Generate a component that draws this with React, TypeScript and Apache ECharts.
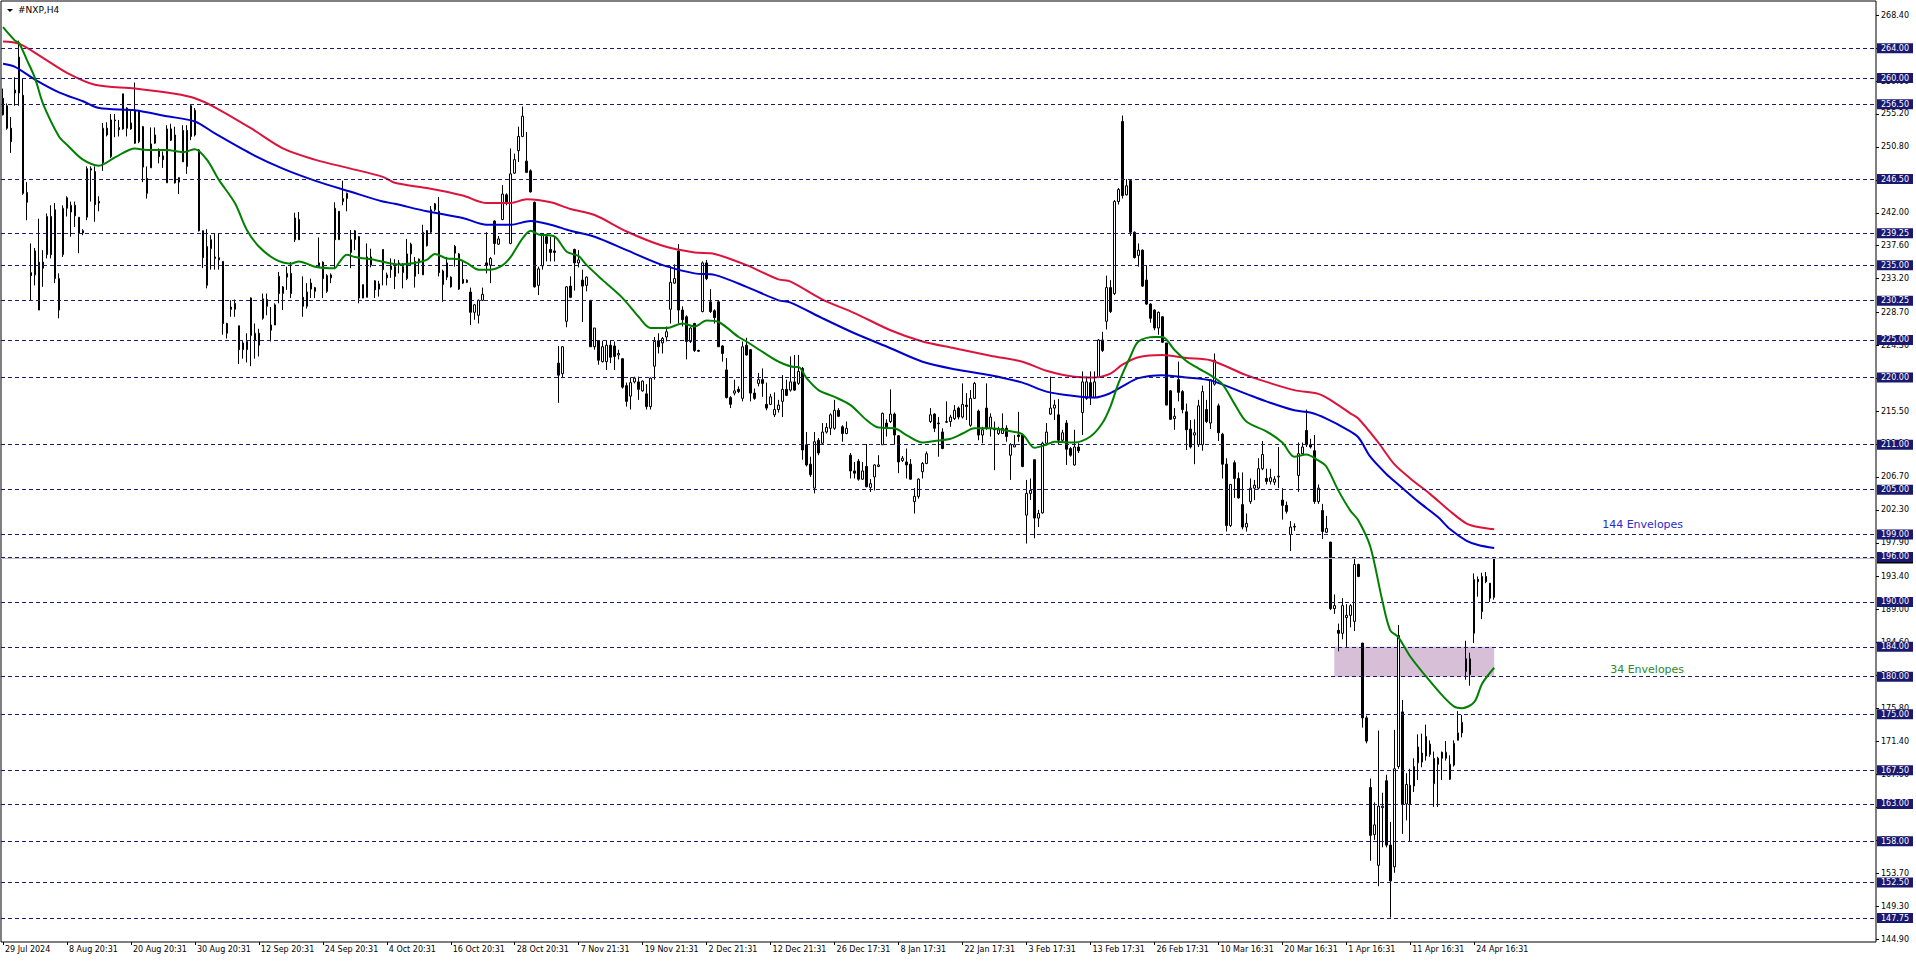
import React, { useEffect, useRef } from "react";
import * as echarts from "echarts";

// ---- DATA ----
// candles: [open, close, low, high], H4 bars from 29 Jul 2024 to 24 Apr 2025
const candles: number[][] = [
  [257.3,255.1,255.0,258.6],[256.3,253.3,253.1,256.6],[253.3,251.5,250.0,254.8],[258.0,258.4,256.3,260.1],[258.0,262.8,256.3,265.0],
  [257.7,244.6,244.4,260.0],[244.7,243.4,241.0,246.1],[234.0,233.6,230.3,237.9],[233.7,236.9,232.3,237.3],[229.0,235.4,229.0,241.2],
  [235.4,234.6,232.1,237.0],[236.4,241.5,235.9,241.9],[241.5,236.4,235.9,243.0],[242.4,233.2,232.6,243.3],[233.2,229.0,227.9,233.9],
  [236.4,242.6,236.1,243.0],[242.6,244.0,241.5,244.2],[242.1,243.0,238.8,243.5],[243.0,241.6,240.1,243.5],[241.4,239.3,236.6,241.4],
  [239.3,239.6,239.0,239.8],[241.4,247.9,241.0,248.2],[247.7,247.9,243.5,248.2],[247.5,243.1,240.8,248.2],[243.5,243.3,242.2,244.2],
  [248.7,253.3,247.6,254.0],[253.3,252.4,252.2,254.1],[249.5,254.4,249.3,255.2],[254.4,254.3,252.1,255.2],[253.1,253.4,252.2,254.4],
  [253.2,257.9,253.1,257.9],[256.0,253.3,252.2,256.1],[253.2,254.0,253.1,255.7],[255.7,251.3,251.2,259.4],[251.5,255.5,251.3,255.7],
  [253.5,248.1,246.1,253.6],[246.6,244.6,243.9,248.2],[248.0,251.2,248.0,253.4],[251.3,252.4,251.2,253.4],[250.3,249.5,248.6,250.6],
  [249.6,249.1,248.0,250.2],[246.0,253.2,246.0,253.7],[253.2,251.7,251.6,253.9],[252.4,246.0,245.9,253.5],[246.1,246.7,244.5,246.7],
  [248.8,253.0,248.8,253.7],[253.0,248.2,247.2,253.7],[256.3,252.2,251.7,256.4],[252.4,255.7,252.2,256.0],[250.4,239.6,239.5,250.5],
  [239.6,236.0,234.6,239.6],[232.3,237.5,231.9,239.8],[237.2,238.4,234.4,239.0],[236.1,235.9,234.4,239.3],[235.7,236.0,234.4,239.3],
  [235.5,227.2,225.7,235.5],[227.2,225.9,225.2,227.3],[229.4,229.1,228.1,230.3],[229.1,229.9,228.1,230.4],[226.9,223.7,221.8,226.9],
  [223.7,224.6,222.5,225.0],[223.7,224.8,222.0,225.9],[225.6,230.6,221.5,230.7],[225.0,225.9,222.5,227.2],[225.9,224.3,222.8,226.5],
  [227.9,230.5,227.7,231.2],[230.4,229.5,228.3,231.2],[226.3,227.0,224.8,229.4],[227.0,229.7,227.0,229.9],[233.5,231.2,229.9,234.1],
  [231.2,232.1,229.0,232.2],[233.4,233.9,231.7,234.8],[233.9,231.2,230.6,235.4],[238.4,241.3,238.1,242.0],[241.1,238.4,238.4,242.1],
  [230.7,229.5,228.1,233.5],[229.5,231.4,229.2,232.6],[232.6,231.8,230.6,233.2],[231.5,232.0,230.6,232.1],[234.8,235.3,234.8,238.7],
  [235.4,233.2,230.6,235.5],[231.5,233.6,231.3,233.8],[233.3,233.7,232.6,233.9],[242.6,238.4,234.6,243.4],[238.4,242.2,238.4,242.2],
  [243.5,243.9,243.0,246.3],[243.9,244.6,242.2,244.7],[236.7,238.4,234.6,239.7],[238.4,239.6,237.0,239.7],[238.8,230.6,229.9,238.9],
  [230.6,232.4,230.6,232.4],[230.7,236.1,230.7,237.9],[235.0,236.1,234.7,237.2],[232.9,231.7,230.6,233.0],[231.8,232.5,230.8,232.9],
  [237.1,234.4,232.3,237.1],[233.3,233.7,232.3,234.0],[234.4,234.9,233.3,235.9],[234.8,233.5,231.8,235.8],[235.1,235.3,233.9,235.7],
  [234.0,234.8,231.9,235.3],[233.2,236.5,233.0,238.5],[236.5,237.8,235.0,238.0],[233.5,235.5,232.0,236.1],[235.3,235.8,233.8,235.9],
  [233.7,239.4,233.7,240.4],[239.6,237.6,237.5,239.7],[239.4,242.4,239.3,242.9],[242.4,243.2,242.2,243.3],[242.2,234.0,233.5,244.1],
  [234.2,232.4,230.1,234.4],[235.3,233.4,233.0,236.1],[233.4,232.1,232.0,233.5],[237.5,236.6,234.8,237.7],[236.5,231.8,231.7,236.6],
  [233.1,232.6,232.5,235.7],[232.7,233.0,232.6,233.1],[231.4,228.7,227.0,232.0],[228.7,229.7,227.7,229.8],[228.3,230.3,227.2,230.4],
  [230.3,231.1,230.2,232.0],[235.3,235.0,233.9,239.4],[235.0,235.9,232.6,236.1],[240.9,237.9,236.4,241.0],[237.8,238.5,237.7,238.9],
  [241.1,244.5,241.0,245.7],[244.4,243.4,243.0,244.6],[237.9,247.2,237.8,250.6],[247.3,249.1,247.2,249.9],[250.3,252.2,248.8,253.5],
  [252.2,254.9,252.1,256.2],[248.9,247.4,247.3,252.8],[247.6,244.8,244.7,247.8],[243.4,232.1,232.0,243.5],[232.3,234.5,231.0,234.8],
  [234.9,239.0,234.4,239.2],[238.8,237.9,235.5,239.2],[237.1,236.7,235.5,238.8],[236.9,236.7,235.5,238.8],[221.9,220.3,216.6,224.2],
  [220.5,224.1,219.9,224.2],[227.5,232.1,226.7,232.2],[232.2,230.7,230.6,233.5],[237.1,235.3,231.6,237.2],[235.3,235.7,234.7,237.0],
  [233.0,232.2,227.4,234.4],[232.3,233.4,231.5,233.5],[230.3,224.1,224.1,230.3],[224.1,226.6,223.7,226.6],[224.9,222.3,221.7,225.0],
  [222.1,224.1,222.0,224.9],[222.1,224.3,221.0,224.9],[224.3,222.7,221.9,224.9],[224.2,222.8,221.0,224.8],[223.0,223.2,222.4,223.7],
  [222.5,218.7,218.5,222.5],[218.9,216.8,216.1,219.3],[217.5,219.3,215.7,220.0],[219.4,219.9,219.2,220.1],[219.4,218.4,217.0,220.1],
  [218.2,219.5,218.1,219.6],[217.8,216.1,215.7,219.1],[216.1,219.9,215.7,220.0],[221.5,224.8,219.7,225.4],[224.9,224.1,223.2,225.9],
  [224.6,225.2,223.2,225.4],[225.4,226.1,224.8,226.8],[229.1,232.7,227.2,234.9],[232.6,233.2,232.5,235.1],[236.9,229.0,227.2,237.8],
  [229.0,227.7,226.8,229.5],[228.1,224.8,222.4,228.3],[224.8,226.6,224.6,226.7],[227.2,223.6,223.4,227.3],[223.6,223.5,223.4,223.7],
  [228.8,235.3,228.7,235.5],[235.3,233.2,233.0,235.7],[230.1,228.8,228.6,231.8],[228.9,228.0,227.2,229.1],[230.1,224.1,224.1,230.3],
  [224.2,223.2,222.1,224.3],[221.0,217.3,217.2,222.6],[217.3,216.4,215.9,217.5],[217.9,218.2,217.6,219.7],[218.4,218.1,217.9,218.8],
  [217.2,224.1,216.8,224.8],[224.3,223.0,222.9,225.3],[223.7,217.9,216.8,223.8],[217.9,217.2,217.0,218.5],[219.2,219.7,218.8,220.6],
  [219.7,219.2,217.4,221.2],[216.4,215.9,215.6,219.3],[216.4,217.4,216.3,217.8],[215.0,215.7,214.7,218.0],[215.7,216.3,215.3,217.0],
  [216.8,218.4,214.7,220.3],[218.4,217.6,217.5,219.7],[218.3,219.4,218.1,222.8],[219.4,218.3,218.2,223.0],[219.2,220.8,219.0,223.0],
  [221.2,210.3,209.0,221.4],[211.0,208.3,208.1,212.7],[208.4,207.0,206.7,209.4],[205.2,211.4,204.5,212.7],[211.6,209.9,209.6,211.9],
  [211.2,212.7,211.1,213.9],[212.7,213.3,212.5,213.9],[213.2,215.0,212.3,215.2],[213.2,215.6,213.0,217.0],[215.6,214.8,214.7,215.9],
  [213.4,212.5,211.4,213.6],[212.5,213.2,212.4,214.1],[209.6,207.5,206.5,209.9],[207.5,207.2,206.5,208.7],[208.8,206.4,206.2,209.1],
  [206.4,207.5,206.3,208.7],[208.1,205.4,205.3,211.1],[205.3,205.8,204.7,206.4],[206.7,208.3,204.9,208.4],[208.1,208.3,208.0,209.6],
  [211.0,215.2,211.0,215.3],[213.9,213.4,212.1,214.4],[214.1,215.1,213.9,218.4],[215.1,212.3,211.0,215.3],[212.2,208.7,207.2,212.3],
  [208.9,209.2,208.7,209.5],[208.7,208.3,206.5,210.5],[208.4,206.4,206.3,209.1],[203.4,204.1,201.8,205.2],[204.1,206.4,203.8,206.5],
  [207.4,208.5,206.5,208.7],[208.5,209.8,208.4,210.1],[214.1,215.0,213.9,215.9],[215.1,213.2,212.7,215.2],[213.9,213.8,209.4,214.7],
  [212.7,210.5,210.4,213.2],[214.0,214.1,213.9,216.8],[214.1,214.7,213.4,215.0],[214.5,215.6,214.3,216.3],[215.9,214.7,214.4,216.1],
  [214.7,216.4,214.5,219.2],[216.3,216.1,214.3,217.9],[213.6,217.2,213.4,218.3],[217.2,219.2,217.1,219.4],[215.5,212.3,211.6,215.7],
  [212.3,213.0,211.2,213.4],[215.9,213.2,213.0,219.2],[213.2,214.7,212.1,215.2],[213.2,213.0,207.6,214.1],[212.5,213.0,212.3,213.4],
  [212.5,213.2,212.5,215.2],[213.2,212.1,211.4,213.6],[209.6,211.0,206.3,211.2],[210.7,211.0,210.7,212.3],[212.3,212.1,211.4,215.4],
  [212.3,208.1,208.0,212.5],[201.6,204.5,197.8,206.3],[204.5,204.9,203.6,206.5],[209.0,201.2,198.5,209.0],[201.2,201.8,200.0,202.3],
  [201.9,211.2,201.8,211.4],[211.2,212.7,211.0,213.9],[215.1,215.9,215.0,220.1],[215.9,216.3,214.3,217.0],[215.0,211.6,211.0,217.1],
  [211.6,212.6,211.4,213.0],[213.9,210.4,208.3,214.3],[210.5,209.6,209.4,210.7],[208.3,210.7,208.2,213.0],[210.7,210.2,209.9,211.2],
  [215.3,219.4,212.3,220.8],[217.2,219.4,217.0,220.1],[219.3,217.3,216.3,220.8],[217.3,219.4,217.2,220.8],[220.0,225.0,219.9,225.1],
  [225.0,223.6,223.4,226.1],[227.5,232.0,226.4,233.6],[232.0,228.8,228.6,233.0],[231.2,243.5,231.0,243.7],[243.5,245.1,243.1,245.3],
  [254.2,244.3,243.9,255.0],[244.4,245.6,244.3,246.5],[246.3,239.4,238.9,246.5],[239.4,236.0,235.9,239.5],[236.3,237.0,234.8,237.9],
  [237.0,232.2,232.1,237.1],[233.0,229.8,229.7,235.0],[229.8,227.9,227.3,229.9],[229.0,226.6,226.3,229.1],[226.6,228.7,225.7,228.8],
  [228.1,224.7,224.6,228.2],[224.6,216.3,216.3,224.6],[218.2,214.4,214.3,218.3],[214.5,214.8,213.0,215.9],[219.7,218.0,216.8,222.1],
  [218.1,215.7,215.2,218.3],[215.4,213.0,210.3,216.5],[213.1,210.7,210.5,214.3],[212.3,212.6,208.4,214.4],[211.0,216.2,210.7,217.0],
  [211.0,218.1,210.2,218.9],[215.7,214.1,213.9,217.0],[213.9,219.7,213.1,219.7],[219.1,222.3,218.9,223.2],[216.2,212.6,211.5,216.5],
  [212.4,208.4,206.5,212.6],[208.4,200.2,199.4,209.2],[200.2,205.7,200.0,205.7],[208.6,206.5,203.9,208.9],[206.5,203.9,203.8,207.3],
  [203.0,200.0,199.7,207.3],[200.0,200.5,199.4,201.8],[203.4,205.2,203.1,206.5],[205.2,205.6,203.6,206.3],[205.2,207.8,205.0,209.2],
  [207.8,209.7,207.6,211.5],[206.5,206.1,205.7,207.8],[206.1,206.6,205.7,207.8],[206.0,206.4,205.6,206.8],[206.7,206.8,205.2,210.7],
  [203.6,202.9,201.0,205.2],[202.9,202.1,201.8,203.4],[199.0,200.0,196.8,200.8],[200.0,200.1,199.5,200.5],[206.9,209.8,204.7,211.3],
  [209.8,210.7,209.7,211.3],[212.9,211.0,210.7,215.7],[211.0,210.7,210.5,211.8],[210.2,203.4,203.1,212.3],[203.4,205.2,203.1,205.7],
  [202.2,199.4,198.4,203.1],[199.3,199.8,199.2,201.5],[198.0,189.1,188.9,198.0],[189.1,189.5,188.4,191.0],[186.2,185.8,183.4,187.1],
  [185.8,189.5,185.0,190.5],[187.9,188.2,184.0,189.7],[188.2,189.5,186.6,189.7],[187.4,195.0,186.1,196.0],[195.0,193.4,193.3,195.1],
  [184.5,174.5,173.2,184.5],[174.5,171.4,171.1,174.8],[165.2,158.8,155.4,166.4],[158.9,160.2,158.2,163.2],[154.8,162.7,152.0,172.8],
  [162.5,162.7,157.2,164.5],[166.1,157.5,157.2,166.9],[157.5,152.7,147.8,160.6],[154.6,167.7,153.8,172.9],[168.0,185.5,167.7,186.9],
  [175.3,163.0,159.0,176.9],[163.0,165.6,160.8,167.1],[163.0,165.5,158.0,167.7],[165.4,168.0,164.6,169.1],[170.6,168.5,166.2,172.3],
  [168.6,169.8,167.9,172.4],[172.0,169.4,168.8,173.6],[169.6,171.0,169.3,171.5],[165.7,169.1,162.6,170.0],[169.1,168.3,162.6,169.3],
  [169.9,169.1,166.2,170.0],[169.1,169.9,168.8,171.4],[166.3,168.3,166.2,169.5],[168.2,171.1,168.0,171.5],[171.5,172.5,171.5,175.4],
  [172.5,173.9,171.9,174.9],[180.7,182.4,179.6,184.8],[182.4,180.3,178.8,183.2],[185.8,193.0,184.5,193.8],[193.0,192.7,190.7,193.4],
  [188.7,193.4,187.7,193.9],[193.4,192.7,192.5,194.0],[192.5,190.5,190.0,192.5],[190.6,195.8,190.3,196.0]
];

// indicator lines: [bar index, value]
const ma34: number[][] = [
  [0,266.8],[3,265.0],[4,264.7],[6,262.4],[8,260.0],[10,256.6],[14,252.2],[16,251.1],[20,249.1],[24,248.3],[28,249.4],[33,250.6],
  [36,250.4],[41,250.4],[45,250.1],[48,250.5],[51,249.1],[54,246.4],[58,243.3],[61,239.7],[64,237.5],[68,235.8],[72,235.2],[74,235.5],
  [78,234.8],[83,234.6],[84,235.3],[86,236.4],[88,236.1],[93,235.7],[99,235.1],[103,235.3],[106,235.7],[108,236.5],[111,235.9],
  [114,235.8],[116,235.3],[119,234.4],[122,234.4],[125,235.0],[127,236.1],[130,238.6],[132,239.6],[134,239.1],[138,238.8],[141,236.8],
  [144,236.2],[146,235.0],[150,233.0],[155,230.6],[159,228.1],[162,226.6],[166,226.6],[170,227.2],[173,226.8],[176,227.6],[179,227.4],
  [184,225.4],[186,224.8],[190,223.4],[194,222.1],[198,221.4],[199,221.4],[201,219.9],[204,218.3],[208,217.4],[212,216.3],[216,214.3],
  [219,213.3],[223,213.2],[226,212.3],[230,211.3],[233,211.5],[237,211.8],[240,212.5],[243,213.2],[247,213.2],[251,212.9],[255,212.4],
  [258,210.6],[261,211.0],[263,211.4],[268,211.3],[272,212.1],[275,213.9],[277,216.1],[279,219.2],[282,222.8],[284,224.8],[288,225.4],
  [290,225.4],[293,223.7],[296,222.2],[299,221.2],[302,220.3],[305,219.1],[308,216.5],[311,214.1],[316,212.8],[320,211.3],[323,209.4],
  [326,209.7],[329,208.9],[331,208.1],[334,204.9],[337,202.2],[339,200.9],[342,197.4],[345,190.2],[347,186.2],[349,185.3],[352,182.7],
  [356,180.0],[360,177.5],[363,176.0],[365,175.8],[368,176.6],[370,179.1],[373,181.2]
];
const env144: number[][] = [
  [0,261.9],[3,261.5],[8,259.8],[14,258.1],[20,256.9],[24,256.0],[33,255.7],[41,254.9],[48,254.2],[53,252.6],[62,249.9],[70,247.9],
  [78,246.3],[87,244.8],[95,243.5],[98,243.2],[106,242.2],[115,241.3],[121,240.4],[127,240.4],[132,240.9],[137,240.4],[142,239.6],
  [148,238.8],[156,237.0],[165,235.0],[173,233.9],[178,233.7],[186,232.1],[194,230.3],[197,230.0],[205,227.9],[213,225.9],[222,223.9],
  [230,222.1],[238,221.1],[247,220.3],[255,219.3],[261,218.1],[268,217.5],[273,217.3],[277,217.9],[280,218.8],[284,219.9],[290,220.3],
  [296,220.0],[302,219.6],[311,217.8],[316,216.8],[323,215.6],[327,215.3],[331,214.5],[336,213.1],[339,212.0],[342,209.4],[346,207.1],
  [349,205.7],[354,203.4],[359,201.3],[362,199.7],[366,198.2],[369,197.6],[373,197.2]
];
const env144Upper: number[][] = [
  [0,264.9],[4,264.6],[10,262.7],[16,260.7],[23,259.1],[33,258.6],[43,257.9],[48,257.3],[53,256.1],[62,253.3],[70,250.6],[78,249.1],
  [87,247.9],[95,246.8],[98,246.0],[106,245.3],[115,244.3],[121,243.3],[127,243.3],[131,243.8],[137,243.4],[142,242.5],[148,241.7],
  [156,239.5],[165,237.6],[173,236.7],[178,236.5],[186,235.0],[194,233.1],[197,232.8],[205,230.4],[213,228.6],[222,226.3],[230,224.8],
  [238,223.9],[247,222.9],[255,222.1],[261,220.9],[268,220.1],[273,220.0],[277,220.5],[280,221.7],[284,222.7],[290,223.0],[296,222.6],
  [302,222.3],[311,220.3],[316,219.4],[323,218.3],[329,217.8],[332,217.0],[337,215.2],[339,214.5],[344,211.3],[348,208.4],[352,206.5],
  [357,204.4],[362,202.1],[366,200.5],[369,200.0],[373,199.7]
];

const levels: number[] = [264, 260, 256.5, 246.5, 239.25, 235, 230.25, 225, 220, 211, 205, 199, 196, 190, 184, 180, 175, 167.5, 163, 158, 152.5, 147.75];
const priceTicks: number[] = [144.9, 149.3, 153.7, 158.1, 162.6, 167.0, 171.4, 175.8, 180.2, 184.6, 189.0, 193.4, 197.9, 202.3, 206.7, 211.1, 215.5, 219.9, 224.3, 228.7, 233.2, 237.6, 242.0, 246.4, 250.8, 255.2, 259.6, 264.0, 268.4];
const dateLabels: string[] = [
  "29 Jul 2024", "8 Aug 20:31", "20 Aug 20:31", "30 Aug 20:31", "12 Sep 20:31", "24 Sep 20:31", "4 Oct 20:31", "16 Oct 20:31",
  "28 Oct 20:31", "7 Nov 21:31", "19 Nov 21:31", "2 Dec 21:31", "12 Dec 21:31", "26 Dec 17:31", "8 Jan 17:31", "22 Jan 17:31",
  "3 Feb 17:31", "13 Feb 17:31", "26 Feb 17:31", "10 Mar 16:31", "20 Mar 16:31", "1 Apr 16:31", "11 Apr 16:31", "24 Apr 16:31"
];
const LABEL_STEP = 16;
const EMPTY_BARS = 95;
const bidPrice = 195.8;
const zoneBars: number[] = [333, 373];
const zonePrices: number[] = [184, 180];
const annotations = [
  { text: "144 Envelopes", bar: 400, price: 200.4, color: "#2b2bcc" },
  { text: "34 Envelopes", bar: 402, price: 180.9, color: "#2a8a2a" },
];

const FONT = "DejaVu Sans";
const NAVY = "#191970";

export default function App() {
  const ref = useRef<HTMLDivElement>(null);
  useEffect(() => {
    if (!ref.current) return;
    const chart = echarts.init(ref.current, undefined, { renderer: "svg" });
    const total = candles.length + EMPTY_BARS;
    const cats = Array.from({ length: total }, (_, i) => String(i));
    const showIdx = (i: number) => i % LABEL_STEP === 0 && i < candles.length;

    const levelData: any[] = [
      {
        yAxis: bidPrice,
        lineStyle: { type: "solid", color: "#c0c0c0", width: 1 },
        label: { backgroundColor: "#000" },
      },
      ...levels.map((v) => ({ yAxis: v })),
    ];

    chart.setOption({
      animation: false,
      backgroundColor: "#fff",
      grid: { left: 1, right: 40, top: 1, bottom: 21, show: true, borderColor: "#000", borderWidth: 1, backgroundColor: "#fff" },
      xAxis: {
        type: "category",
        data: cats,
        boundaryGap: true,
        axisLine: { show: false },
        axisTick: { show: true, interval: (i: number) => showIdx(i), alignWithLabel: true, length: 3, lineStyle: { color: "#000" } },
        axisLabel: {
          interval: (i: number) => showIdx(i),
          formatter: (_v: string, i: number) => (i % LABEL_STEP === 0 ? dateLabels[i / LABEL_STEP] ?? "" : ""),
          align: "left",
          padding: [0, 0, 0, 2],
          margin: 3,
          fontSize: 8,
          fontFamily: FONT,
          color: "#000",
        },
        splitLine: { show: false },
      },
      yAxis: {
        type: "value",
        position: "right",
        min: 144.55,
        max: 270.3,
        scale: true,
        axisLine: { show: false },
        splitLine: { show: false },
        axisTick: { show: true, customValues: priceTicks, length: 3, lineStyle: { color: "#000" } },
        axisLabel: {
          customValues: priceTicks,
          formatter: (v: number) => v.toFixed(2),
          fontSize: 8,
          fontFamily: FONT,
          color: "#000",
          margin: 5,
        },
      },
      graphic: [
        { type: "polygon", shape: { points: [[7, 9], [13, 9], [10, 12]] }, style: { fill: "#000" }, z: 100 },
        { type: "text", x: 18, y: 5, style: { text: "#NXP,H4", font: `9px "${FONT}"`, fill: "#000" }, z: 100 },
      ],
      series: [
        {
          type: "line",
          data: [],
          z: 1,
          silent: true,
          markArea: {
            silent: true,
            itemStyle: { color: "#d8bfd8" },
            data: [[{ xAxis: zoneBars[0], yAxis: zonePrices[0] }, { xAxis: zoneBars[1], yAxis: zonePrices[1] }]],
          },
        },
        {
          type: "candlestick",
          data: candles,
          z: 3,
          barWidth: 2,
          itemStyle: {
            color: "#fff",
            color0: "#000",
            borderColor: "#000",
            borderColor0: "#000",
            borderColorDoji: "#000",
            borderWidth: 1,
          },
          markLine: {
            silent: true,
            symbol: "none",
            animation: false,
            lineStyle: { type: [4, 3], color: NAVY, width: 1 },
            label: {
              show: true,
              position: "end",
              distance: 1,
              formatter: (p: any) => Number(p.value).toFixed(2),
              backgroundColor: NAVY,
              color: "#fff",
              padding: [1, 4, 1, 4],
              fontSize: 8,
              fontFamily: FONT,
            },
            data: levelData,
          },
        },
        {
          type: "line",
          data: env144Upper,
          smooth: 0.3,
          showSymbol: false,
          z: 4,
          lineStyle: { color: "#dc143c", width: 2 },
        },
        {
          type: "line",
          data: env144,
          smooth: 0.3,
          showSymbol: false,
          z: 4,
          lineStyle: { color: "#0000cd", width: 2 },
        },
        {
          type: "line",
          data: ma34,
          smooth: 0.3,
          showSymbol: false,
          z: 5,
          lineStyle: { color: "#008000", width: 2 },
          markPoint: {
            silent: true,
            symbol: "circle",
            symbolSize: 0,
            data: annotations.map((a) => ({
              coord: [a.bar, a.price],
              name: a.text,
              label: { color: a.color },
            })),
            label: {
              show: true,
              position: "right",
              distance: 0,
              formatter: (p: any) => p.name,
              fontSize: 11,
              fontFamily: FONT,
            },
          },
        },
      ],
    });
    return () => chart.dispose();
  }, []);
  return <div ref={ref} style={{ position: "fixed", left: 0, top: 0, width: 1916, height: 963, background: "#fff" }} />;
}
